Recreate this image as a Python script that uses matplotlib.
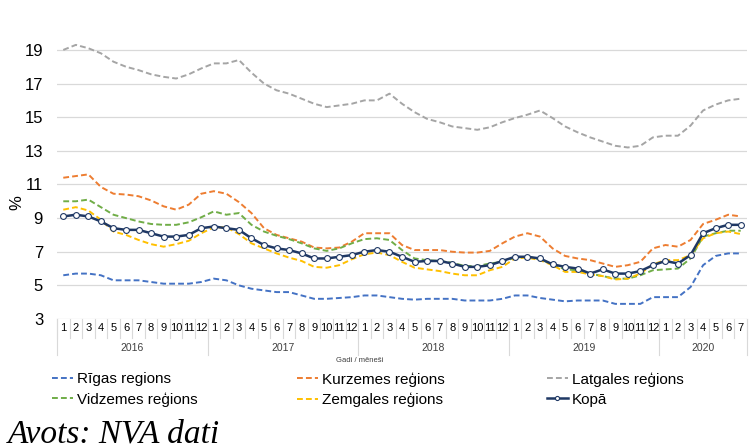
import numpy as np
import matplotlib
matplotlib.use("Agg")
import matplotlib.pyplot as plt
import matplotlib.transforms as mtransforms

plt.rcParams['font.family'] = ['Liberation Sans', 'DejaVu Sans']

#months jan 2016 - jul 2020
years = ['2016', '2017', '2018', '2019', '2020']
months_per_year = [12, 12, 12, 12, 7]
month_labels = []
for n in months_per_year:
    month_labels += [str(m) for m in range(1, n + 1)]

#unemployment rate by region, %
riga = [5.6, 5.7, 5.7, 5.6, 5.3, 5.3, 5.3, 5.2, 5.1, 5.1, 5.1, 5.2,
        5.4, 5.3, 5.0, 4.8, 4.7, 4.6, 4.6, 4.4, 4.2, 4.2, 4.25, 4.3,
        4.4, 4.4, 4.3, 4.2, 4.15, 4.2, 4.2, 4.2, 4.1, 4.1, 4.1, 4.2,
        4.4, 4.4, 4.25, 4.15, 4.05, 4.1, 4.1, 4.1, 3.9, 3.9, 3.9, 4.3,
        4.3, 4.3, 4.9, 6.2, 6.75, 6.9, 6.9]
kurzeme = [11.4, 11.5, 11.6, 10.85, 10.45, 10.4, 10.3, 10.05, 9.7, 9.5, 9.8, 10.45,
           10.6, 10.45, 9.95, 9.3, 8.4, 8.0, 7.8, 7.6, 7.25, 7.2, 7.25, 7.6,
           8.1, 8.1, 8.1, 7.4, 7.1, 7.1, 7.1, 7.0, 6.95, 6.95, 7.05, 7.5,
           7.9, 8.1, 7.9, 7.2, 6.75, 6.6, 6.5, 6.3, 6.1, 6.2, 6.4, 7.2,
           7.4, 7.3, 7.7, 8.65, 8.9, 9.2, 9.1]
latgale = [19.0, 19.3, 19.1, 18.8, 18.3, 18.0, 17.8, 17.55, 17.4, 17.3, 17.55, 17.9,
           18.2, 18.2, 18.4, 17.65, 17.0, 16.6, 16.4, 16.1, 15.8, 15.6, 15.7, 15.8,
           16.0, 16.0, 16.4, 15.8, 15.3, 14.9, 14.7, 14.45, 14.35, 14.25, 14.4, 14.7,
           14.95, 15.15, 15.4, 14.95, 14.45, 14.1, 13.8, 13.55, 13.3, 13.2, 13.3, 13.8,
           13.9, 13.9, 14.5, 15.4, 15.75, 16.0, 16.1]
vidzeme = [10.0, 10.0, 10.1, 9.65, 9.2, 9.0, 8.8, 8.65, 8.6, 8.6, 8.75, 9.05,
           9.4, 9.2, 9.3, 8.6, 8.2, 7.95, 7.75, 7.5, 7.2, 7.05, 7.2, 7.5,
           7.75, 7.8, 7.7, 7.1, 6.6, 6.5, 6.45, 6.35, 6.15, 6.15, 6.3, 6.4,
           6.65, 6.7, 6.55, 6.25, 5.95, 5.9, 5.7, 5.55, 5.4, 5.4, 5.6, 5.9,
           5.95, 6.0, 6.6, 7.9, 8.1, 8.25, 8.25]
zemgale = [9.5, 9.65, 9.45, 8.9, 8.2, 8.0, 7.7, 7.45, 7.3, 7.45, 7.65, 8.1,
           8.45, 8.45, 8.05, 7.5, 7.2, 6.9, 6.65, 6.45, 6.1, 6.05, 6.2, 6.55,
           6.85, 6.95, 6.8, 6.4, 6.05, 5.95, 5.85, 5.7, 5.6, 5.6, 5.9, 6.1,
           6.6, 6.65, 6.5, 6.2, 5.8, 5.8, 5.65, 5.55, 5.35, 5.4, 5.7, 6.25,
           6.5, 6.5, 6.8, 7.8, 8.1, 8.2, 8.05]
kopa = [9.1, 9.2, 9.1, 8.8, 8.4, 8.3, 8.3, 8.1, 7.9, 7.9, 8.0, 8.4,
        8.5, 8.4, 8.3, 7.8, 7.4, 7.2, 7.1, 6.9, 6.6, 6.6, 6.7, 6.8,
        7.0, 7.1, 7.0, 6.7, 6.4, 6.45, 6.45, 6.3, 6.1, 6.1, 6.2, 6.45,
        6.7, 6.7, 6.6, 6.25, 6.1, 6.0, 5.7, 5.95, 5.7, 5.7, 5.85, 6.2,
        6.45, 6.3, 6.8, 8.1, 8.4, 8.6, 8.6]

x = np.arange(len(month_labels))
dash = (0, (3, 1.6))

fig = plt.figure(figsize=(7.55, 4.48), dpi=100)
ax = fig.add_axes([57/755, 129/448, 690/755, 280/448])

l_riga, = ax.plot(x, riga, color='#4472C4', lw=1.4, ls=dash, label='Rīgas regions')
l_kurz, = ax.plot(x, kurzeme, color='#ED7D31', lw=1.4, ls=dash, label='Kurzemes reģions')
l_latg, = ax.plot(x, latgale, color='#A5A5A5', lw=1.4, ls=dash, label='Latgales reģions')
l_vidz, = ax.plot(x, vidzeme, color='#70AD47', lw=1.4, ls=dash, label='Vidzemes reģions')
l_zemg, = ax.plot(x, zemgale, color='#FFC000', lw=1.4, ls=dash, label='Zemgales reģions')
l_kopa, = ax.plot(x, kopa, color='#1F3864', lw=1.8, marker='o', ms=4.2,
                  mfc='white', mec='#1F3864', mew=0.8, label='Kopā')

ax.set_xlim(-0.5, len(x) - 0.5)
ax.set_ylim(3, 19.65)
ax.set_yticks(range(3, 20, 2))
ax.grid(axis='y', color='#D9D9D9', lw=0.9)
ax.set_axisbelow(True)
for s in ax.spines.values():
    s.set_visible(False)
ax.tick_params(axis='y', length=0, labelsize=12, pad=10)
ax.set_xticks(x)
ax.set_xticklabels(month_labels, fontsize=8)
ax.tick_params(axis='x', length=0, pad=3)
fig.text(17/755, 1 - 203/448, '%', fontsize=12, rotation=90,
         ha='center', va='center')

#category separators under the axis
trans = mtransforms.blended_transform_factory(ax.transData, ax.transAxes)
sep_color = '#D9D9D9'
for i in range(len(x) + 1):
    ax.plot([i - 0.5, i - 0.5], [0, -0.068], color=sep_color, lw=0.8,
            transform=trans, clip_on=False)
start = 0
for yr, n in zip(years, months_per_year):
    ax.plot([start - 0.5, start - 0.5], [0, -0.13], color=sep_color, lw=0.8,
            transform=trans, clip_on=False)
    ax.text(start + (n - 1) / 2, -0.104, yr, fontsize=7.5, ha='center',
            va='center', transform=trans, color='#404040')
    start += n
ax.plot([start - 0.5, start - 0.5], [0, -0.13], color=sep_color, lw=0.8,
        transform=trans, clip_on=False)
fig.text(360/755, 1 - 360/448, 'Gadi / mēneši', fontsize=5.5, ha='center',
         va='center', color='#404040')

#legend: three columns placed like the original
cols = [(52, [l_riga, l_vidz]), (297, [l_kurz, l_zemg]), (547, [l_latg, l_kopa])]
for px, hs in cols:
    fig.legend(hs, [hh.get_label() for hh in hs], loc='upper left',
               bbox_to_anchor=(px/755, 1 - 372/448), frameon=False,
               fontsize=11, handlelength=1.35, handletextpad=0.3,
               labelspacing=0.4, borderpad=0, borderaxespad=0,
               markerscale=0.7)

fig.text(8/755, 6/448, 'Avots: NVA dati', fontsize=24, style='italic',
         family=['Liberation Serif', 'DejaVu Serif'], va='baseline')

fig.savefig('out.png', dpi=100)
